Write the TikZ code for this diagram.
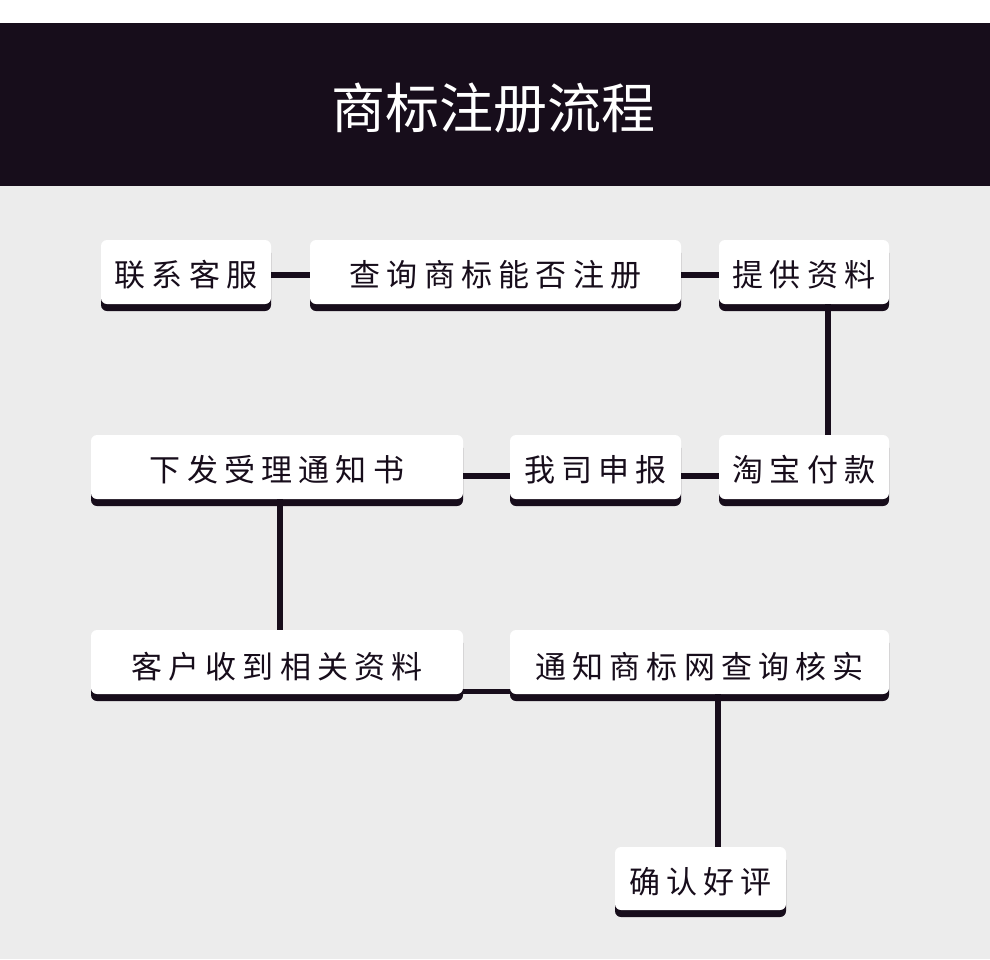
\documentclass[tikz,border=0pt]{standalone}
\usepackage{fontspec}
\newfontfamily\boxfont{Noto Sans CJK SC}[LetterSpace=20]
\newfontfamily\titlefont{Noto Sans CJK SC}
\usetikzlibrary{shadows}
\definecolor{dark}{HTML}{170D1B}
\definecolor{bg}{HTML}{ECECEC}
\newcommand\lbl[2][3pt]{\raisebox{-#1}[\height][\depth]{#2}}
\begin{document}
\begin{tikzpicture}[x=1pt,y=-1pt,
  stepbox/.style={fill=white, rounded corners=6pt, minimum height=64pt, inner sep=0pt,
    font=\boxfont\fontsize{31}{36}\selectfont, text=dark,
    drop shadow={shadow xshift=0pt, shadow yshift=-7pt, opacity=1, fill=dark}},
  link/.style={draw=dark, line width=6pt}]
\useasboundingbox (0,0) rectangle (990,959);
\fill[white] (0,0) rectangle (990,23);
\fill[dark] (0,23) rectangle (990,186);
\fill[bg] (0,186) rectangle (990,959);
\node[text=white, font=\titlefont\fontsize{54}{60}\selectfont] (title) at (493,108) {商标注册流程};
% row 1
\node[stepbox, minimum width=170pt] (a) at (186,272) {\lbl{联系客服}};
\node[stepbox, minimum width=371pt] (b) at (495.5,272) {\lbl{查询商标能否注册}};
\node[stepbox, minimum width=170pt] (c) at (804,272) {\lbl{提供资料}};
% row 2
\node[stepbox, minimum width=170pt] (d) at (804,467) {\lbl{淘宝付款}};
\node[stepbox, minimum width=171pt] (e) at (595.5,467) {\lbl{我司申报}};
\node[stepbox, minimum width=372pt] (f) at (277,467) {\lbl{下发受理通知书}};
% row 3
\node[stepbox, minimum width=372pt] (g) at (277,662) {\lbl[5pt]{客户收到相关资料}};
\node[stepbox, minimum width=379pt] (h) at (699.5,662) {\lbl[5pt]{通知商标网查询核实}};
% row 4
\node[stepbox, minimum width=171pt, minimum height=63pt] (i) at (700.5,878.5) {\lbl{确认好评}};
% connectors
\draw[link] ([yshift=-3pt]a.east) -- ([yshift=-3pt]b.west);
\draw[link] ([yshift=-3pt]b.east) -- ([yshift=-3pt]c.west);
\draw[link] ([xshift=24pt]c.south) -- ([xshift=24pt]d.north);
\draw[link] ([yshift=-9pt]e.east) -- ([yshift=-9pt]d.west);
\draw[link] ([yshift=-9pt]f.east) -- ([yshift=-9pt]e.west);
\draw[link] ([xshift=3pt]f.south) -- ([xshift=3pt]g.north);
\draw[link, line width=5pt] ([yshift=-29pt]g.east) -- ([yshift=-29pt]h.west);
\draw[link] ([xshift=18.5pt]h.south) -- ([xshift=17.5pt]i.north);
\end{tikzpicture}
\end{document}
